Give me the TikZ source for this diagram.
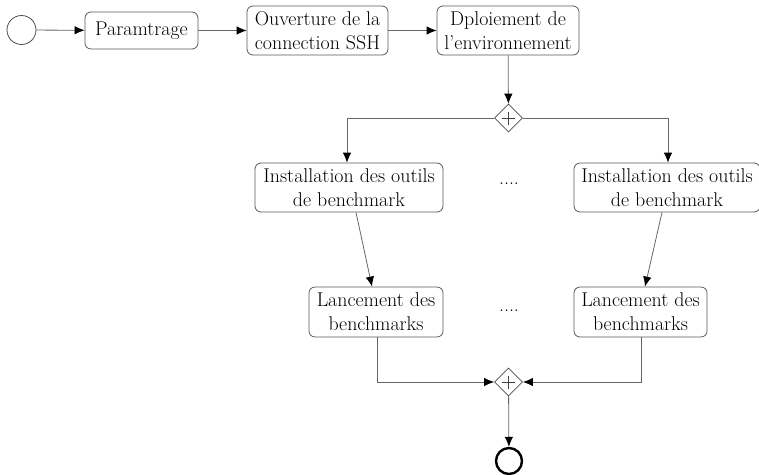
\documentclass[tikz,border=0pt]{standalone}
\usetikzlibrary{shapes.geometric,arrows.meta}
\begin{document}
\begin{tikzpicture}[x=1pt,y=-1pt,
  every node/.style={font=\fontsize{19.9}{24}\selectfont},
  task/.style={draw=black!65,line width=0.8pt,rounded corners=6pt,align=center,inner sep=0pt,minimum height=49pt},
  gate/.style={diamond,draw=black!70,line width=0.8pt,minimum size=28pt,inner sep=0pt,
    path picture={\draw[black!75,line width=0.7pt] ([xshift=-6.5pt]path picture bounding box.center) -- ([xshift=6.5pt]path picture bounding box.center) ([yshift=-6.5pt]path picture bounding box.center) -- ([yshift=6.5pt]path picture bounding box.center);}},
  flow/.style={draw=black!60,line width=0.8pt,-{Latex[length=10pt,width=8.5pt,black]}},
  startev/.style={circle,draw=black!70,line width=0.8pt,minimum size=29pt,inner sep=0pt},
  endev/.style={circle,draw=black,line width=2.4pt,minimum size=26pt,inner sep=0pt}
]
\useasboundingbox (0,0) rectangle (759,474);
\node[startev] (start) at (21.5,30) {};
\node[task,minimum width=113pt,minimum height=37pt] (param) at (141.5,30.5) {Paramtrage};
\node[task,minimum width=141pt] (ouv) at (317.5,30.5) {Ouverture de la\\connection SSH};
\node[task,minimum width=142pt] (dep) at (508,30.5) {Dploiement de\\l'environnement};
\node[gate] (gw1) at (508.5,118) {};
\node[task,minimum width=188pt] (instL) at (349,187.5) {Installation des outils\\de benchmark};
\node[task,minimum width=186pt] (instR) at (667,187.5) {Installation des outils\\de benchmark};
\node (dotsA) at (509,184) {....};
\node[task,minimum width=134pt,minimum height=50pt] (lanL) at (376,312) {Lancement des\\benchmarks};
\node[task,minimum width=133pt,minimum height=50pt] (lanR) at (640.5,312) {Lancement des\\benchmarks};
\node (dotsB) at (509,311) {....};
\node[gate] (gw2) at (508.5,382) {};
\node[endev] (end) at (509,461) {};

\draw[flow] (start) -- (param);
\draw[flow] (param) -- (ouv);
\draw[flow] (ouv) -- (dep);
\draw[flow] (dep) -- (gw1);
\draw[flow] (gw1.west) -| ([xshift=-2pt]instL.north);
\draw[flow] (gw1.east) -| ([xshift=1pt]instR.north);
\draw[flow] ([xshift=7pt]instL.south) -- ([xshift=-4pt]lanL.north);
\draw[flow] ([xshift=-5pt]instR.south) -- ([xshift=4.5pt]lanR.north);
\draw[flow] ([xshift=1pt]lanL.south) |- (gw2.west);
\draw[flow] ([xshift=0.5pt]lanR.south) |- (gw2.east);
\draw[flow] (gw2) -- (end);
\end{tikzpicture}
\end{document}
